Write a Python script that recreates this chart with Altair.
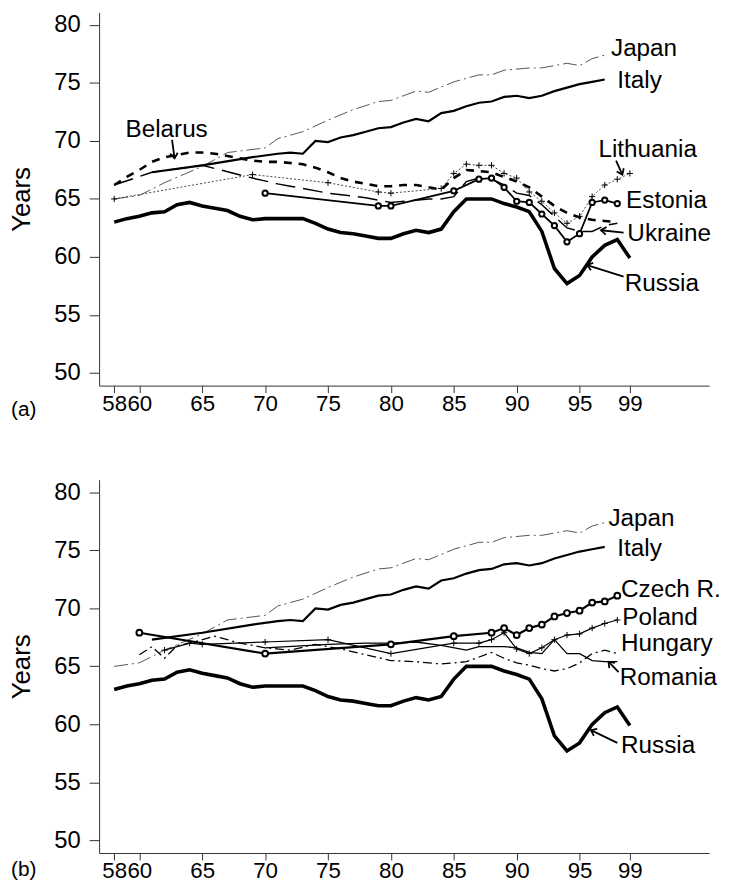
import math
import altair as alt
import pandas as pd

# ---------------- data (male life expectancy, years) ----------------
russia_years = list(range(58, 100))
russia_vals = [63.0, 63.3, 63.5, 63.8, 63.9, 64.5, 64.7, 64.4, 64.2, 64.0, 63.5, 63.2,
               63.3, 63.3, 63.3, 63.3, 62.9, 62.4, 62.1, 62.0, 61.8, 61.6, 61.6, 62.0,
               62.3, 62.1, 62.4, 63.9, 65.0, 65.0, 65.0, 64.6, 64.3, 63.9, 62.2, 59.0,
               57.7, 58.4, 60.0, 61.0, 61.5, 59.9]

japan_years = [58, 60, 62, 65, 67, 70, 71, 73, 75, 77, 79, 80, 82, 83, 85, 87, 88, 89, 91, 92, 94, 95, 96, 97]
japan_vals = [65.0, 65.3, 66.4, 67.8, 69.0, 69.4, 70.2, 70.8, 71.8, 72.7, 73.4, 73.5, 74.3, 74.2,
              75.1, 75.7, 75.7, 76.1, 76.3, 76.3, 76.7, 76.5, 77.1, 77.4]

italy_years = [61, 65, 69, 71, 72, 73, 74, 75, 76, 77, 78, 79, 80, 81, 82, 83, 84, 85, 86, 87,
               88, 89, 90, 91, 92, 93, 94, 95, 96, 97]
italy_vals = [67.3, 67.9, 68.6, 68.9, 69.0, 68.9, 70.0, 69.9, 70.3, 70.5, 70.8, 71.1, 71.2, 71.6,
              71.9, 71.7, 72.4, 72.6, 73.0, 73.3, 73.4, 73.8, 73.9, 73.7, 73.9, 74.3, 74.6, 74.9,
              75.1, 75.3]

belarus_years = list(range(58, 99))
belarus_vals = [66.2, 66.9, 67.5, 68.2, 68.6, 68.8, 69.0, 69.0, 68.9, 68.7, 68.5, 68.3, 68.2,
                68.2, 68.1, 68.0, 67.7, 67.3, 66.8, 66.5, 66.3, 66.1, 66.1, 66.2, 66.2, 66.0,
                65.8, 66.8, 67.5, 67.4, 67.3, 66.9, 66.5, 66.0, 65.2, 64.4, 63.8, 63.4, 63.2,
                63.1, 63.0]

ukraine_years = [58, 61, 65, 69, 71, 72, 75, 78, 80, 83, 84, 85, 86, 87, 88, 89, 90, 91, 92, 93, 94, 95, 96, 97, 98]
ukraine_vals = [66.2, 67.3, 67.9, 66.8, 66.3, 66.1, 65.5, 65.1, 64.7, 65.0, 65.0, 65.2, 66.5,
                66.8, 66.7, 66.2, 65.5, 65.3, 64.5, 63.5, 62.5, 62.2, 62.2, 62.7, 62.9]

lithuania_years = [58, 69, 75, 79, 80, 84, 85, 86, 87, 88, 89, 90, 91, 92, 93, 94, 95, 96, 97, 98, 99]
lithuania_vals = [65.0, 67.1, 66.4, 65.6, 65.5, 65.9, 67.2, 68.0, 67.9, 67.9, 67.2, 66.8, 65.6,
                  64.8, 63.8, 62.9, 63.5, 65.2, 66.2, 66.7, 67.2]

estonia_years = [70, 79, 80, 85, 87, 88, 89, 90, 91, 92, 93, 94, 95, 96, 97, 98]
estonia_vals = [65.5, 64.4, 64.4, 65.7, 66.7, 66.8, 66.0, 64.8, 64.7, 63.7, 62.7, 61.3, 62.0,
                64.7, 64.9, 64.6]

czech_years = [60, 70, 80, 85, 88, 89, 90, 91, 92, 93, 94, 95, 96, 97, 98]
czech_vals = [67.9, 66.1, 66.9, 67.6, 67.9, 68.3, 67.7, 68.3, 68.6, 69.3, 69.6, 69.8, 70.5, 70.6, 71.1]

poland_years = [62, 64, 65, 70, 75, 80, 85, 87, 88, 89, 90, 91, 92, 93, 94, 95, 96, 97, 98]
poland_vals = [66.4, 67.0, 66.9, 67.1, 67.3, 66.1, 67.0, 67.0, 67.3, 67.9,
               66.5, 66.1, 66.6, 67.3, 67.7, 67.8, 68.3, 68.7, 69.0]

hungary_years = [60, 61, 62, 63, 64, 66, 68, 70, 72, 74, 76, 78, 80, 82, 84, 86, 88, 89, 90,
                 91, 92, 93, 94, 95, 96, 97, 98]
hungary_vals = [66.0, 66.7, 65.7, 66.8, 67.0, 67.6, 67.0, 66.6, 66.4, 66.9, 66.5, 66.0,
                65.5, 65.4, 65.2, 65.4, 66.2, 65.7, 65.3, 65.1, 64.8, 64.6, 64.8, 65.3, 66.1,
                66.4, 66.1]

romania_years = [70, 75, 78, 80, 82, 84, 86, 87, 88, 89, 90, 91, 92, 93, 94, 95, 96, 97, 98]
romania_vals = [66.6, 66.9, 67.0, 67.0, 67.1, 66.8, 66.4, 66.7, 66.7, 66.7, 66.6, 66.2, 66.1,
                67.3, 66.1, 66.1, 65.5, 65.4, 65.4]

x_ticks = [58, 60, 65, 70, 75, 80, 85, 90, 95, 99]
y_ticks = [50, 55, 60, 65, 70, 75, 80]

labels_a = ["Japan", "Italy", "Belarus", "Lithuania", "Estonia", "Ukraine", "Russia"]
labels_a_x = [97.5, 98.0, 58.9, 96.5, 98.7, 98.8, 98.6]
labels_a_y = [77.9, 75.2, 70.9, 69.2, 64.8, 62.0, 57.7]

labels_b = ["Japan", "Italy", "Czech R.", "Poland", "Hungary", "Romania", "Russia"]
labels_b_x = [97.3, 98.0, 98.3, 98.4, 98.3, 98.2, 98.3]
labels_b_y = [77.7, 75.1, 71.6, 69.2, 66.9, 64.0, 58.1]

# arrows: start (x, y) -> tip (x2, y2)
arrows_a = [(62.6, 70.1, 62.8, 68.5), (97.9, 68.3, 98.4, 67.1),
            (98.5, 62.1, 96.7, 62.3), (98.5, 58.3, 95.6, 59.3)]
arrows_b = [(98.1, 64.5, 97.3, 65.4), (98.0, 58.4, 95.9, 59.5)]

# ---------------- layout / styling ----------------
FONT = "Liberation Sans"
W, H = 616, 377
X_DOM = [56.8, 105.3]
Y_DOM = [48.9, 81.1]


def sdf(years, vals):
    return pd.DataFrame({"year": years, "value": vals})


xenc = alt.X("year:Q", scale=alt.Scale(domain=X_DOM, nice=False, zero=False),
             axis=alt.Axis(values=x_ticks, title=None, grid=False, tickSize=7,
                           labelFontSize=22.5, labelFont=FONT, labelColor="black",
                           labelPadding=0, labelOverlap=False, labelFlush=False,
                           domainColor="#333", tickColor="#333", format="d"))
yenc = alt.Y("value:Q", scale=alt.Scale(domain=Y_DOM, nice=False, zero=False),
             axis=alt.Axis(values=y_ticks, title="Years", grid=False, tickSize=10,
                           labelFontSize=24, labelFont=FONT, labelColor="black",
                           labelPadding=9, labelFlush=False, labelOverlap=False,
                           titleFont=FONT, titleFontSize=26, titleFontWeight="normal",
                           titleColor="black", titlePadding=20,
                           domainColor="#333", tickColor="#333", format="d"))


def line(years, vals, **kw):
    kw.setdefault("color", "black")
    return alt.Chart(sdf(years, vals)).mark_line(**kw).encode(x=xenc, y=yenc)


def pts(years, vals, **kw):
    return alt.Chart(sdf(years, vals)).mark_point(**kw).encode(x=xenc, y=yenc)


PLUS = "M -1 0 L 1 0 M 0 -1 L 0 1"
CHEVRON = "M -1 -0.75 L 0 0 L -1 0.75"


def text_layer(names, xs, ys):
    df = pd.DataFrame({"label": names, "year": xs, "value": ys})
    return alt.Chart(df).mark_text(align="left", baseline="middle", font=FONT,
                                   fontSize=24.5, color="black").encode(
        x=xenc, y=yenc, text="label:N")


def arrow_layers(arrows):
    sx = W / (X_DOM[1] - X_DOM[0])
    sy = H / (Y_DOM[1] - Y_DOM[0])
    rows = []
    for (x1, y1, x2, y2) in arrows:
        ang = math.degrees(math.atan2(-(y2 - y1) * sy, (x2 - x1) * sx)) % 360
        rows.append({"year": x1, "value": y1, "year2": x2, "value2": y2, "ang": ang})
    df = pd.DataFrame(rows)
    shaft = alt.Chart(df).mark_rule(color="black", strokeWidth=1.8).encode(
        x=xenc, y=yenc, x2="year2:Q", y2="value2:Q")
    heads = []
    for r in rows:
        hd = pd.DataFrame({"year": [r["year2"]], "value": [r["value2"]]})
        heads.append(alt.Chart(hd).mark_point(
            shape=CHEVRON, filled=False, color="black", strokeWidth=1.8, size=110,
            angle=r["ang"], opacity=1).encode(x=xenc, y=yenc))
    return [shaft] + heads


def panel_label(txt, dy):
    return alt.Chart(pd.DataFrame({"t": [txt]})).mark_text(
        align="left", baseline="middle", font=FONT, fontSize=21, color="black").encode(
        x=alt.value(-89), y=alt.value(H + dy), text="t:N")


common = [
    line(japan_years, japan_vals, strokeWidth=1, color="#555", strokeDash=[14, 4, 2, 4]),
    line(italy_years, italy_vals, strokeWidth=2.2),
    line(russia_years, russia_vals, strokeWidth=3.6),
]

panel_a = alt.layer(
    *common,
    line(belarus_years, belarus_vals, strokeWidth=2.6, strokeDash=[8, 7]),
    line(ukraine_years, ukraine_vals, strokeWidth=1.5, strokeDash=[20, 8]),
    line(lithuania_years, lithuania_vals, strokeWidth=1, color="#444", strokeDash=[2, 2]),
    pts(lithuania_years, lithuania_vals, shape=PLUS, filled=False, color="black", size=40, strokeWidth=1, opacity=1),
    line(estonia_years, estonia_vals, strokeWidth=1.8),
    pts(estonia_years, estonia_vals, shape="circle", filled=True, fill="white", stroke="black",
        strokeWidth=2, size=28, opacity=1),
    text_layer(labels_a, labels_a_x, labels_a_y),
    *arrow_layers(arrows_a),
    panel_label("(a)", 25),
).properties(width=W, height=H)

panel_b = alt.layer(
    *common,
    line(hungary_years, hungary_vals, strokeWidth=1.3, strokeDash=[9, 4, 2, 4]),
    line(romania_years, romania_vals, strokeWidth=1.3),
    line(poland_years, poland_vals, strokeWidth=1.2),
    pts(poland_years, poland_vals, shape=PLUS, filled=False, color="black", size=40, strokeWidth=1, opacity=1),
    line(czech_years, czech_vals, strokeWidth=2.2),
    pts(czech_years, czech_vals, shape="circle", filled=True, fill="white", stroke="black",
        strokeWidth=2, size=34, opacity=1),
    text_layer(labels_b, labels_b_x, labels_b_y),
    *arrow_layers(arrows_b),
    panel_label("(b)", 17),
).properties(width=W, height=H)

chart = alt.vconcat(panel_a, panel_b, spacing=60).properties(
    padding=0, background="white").configure_view(stroke=None)

chart.save("out.html", embed_options={"renderer": "svg", "actions": False})
